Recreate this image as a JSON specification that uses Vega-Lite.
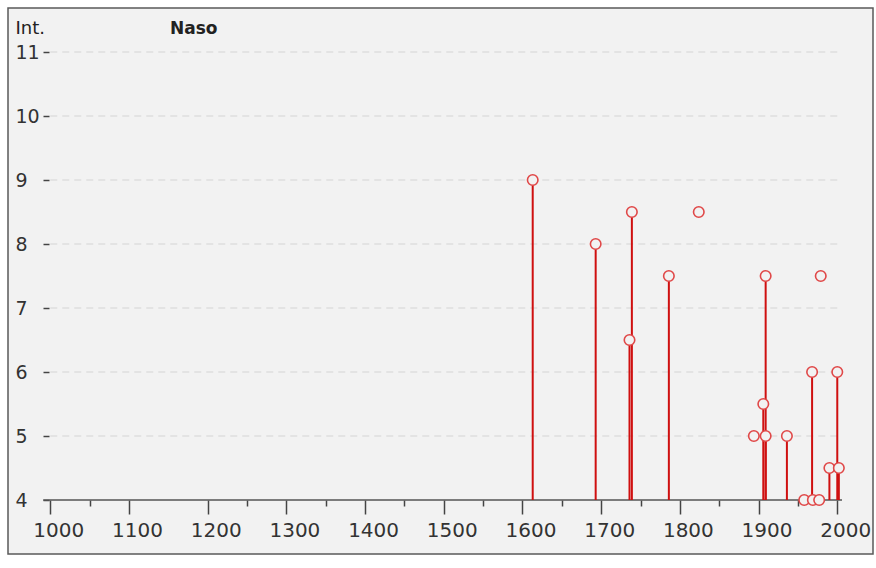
{
  "$schema": "https://vega.github.io/schema/vega-lite/v6.json",
  "width": 865,
  "height": 546,
  "autosize": {"type": "none"},
  "padding": {"left": 8, "top": 8, "right": 3, "bottom": 14},
  "background": "#ffffff",
  "config": {
    "view": {"fill": "#f2f2f2", "stroke": "#5a5a5a", "strokeWidth": 1.5},
    "font": "DejaVu Sans"
  },
  "title": {
    "text": "Naso",
    "anchor": "start",
    "frame": "group",
    "dx": 162,
    "dy": 34,
    "fontSize": 17,
    "fontWeight": "bold",
    "color": "#222222",
    "font": "DejaVu Sans"
  },
  "datasets": {
    "points": [
      {"year": 1613, "value": 9},
      {"year": 1693, "value": 8},
      {"year": 1736, "value": 6.5},
      {"year": 1739, "value": 8.5},
      {"year": 1786, "value": 7.5},
      {"year": 1824, "value": 8.5},
      {"year": 1894, "value": 5},
      {"year": 1906, "value": 5.5},
      {"year": 1909, "value": 5},
      {"year": 1909, "value": 7.5},
      {"year": 1936, "value": 5},
      {"year": 1958, "value": 4},
      {"year": 1968, "value": 6},
      {"year": 1969, "value": 4},
      {"year": 1977, "value": 4},
      {"year": 1979, "value": 7.5},
      {"year": 1990, "value": 4.5},
      {"year": 2000, "value": 6},
      {"year": 2002, "value": 4.5}
    ],
    "stems": [
      {"year": 1613, "value": 9},
      {"year": 1693, "value": 8},
      {"year": 1736, "value": 6.5},
      {"year": 1739, "value": 8.5},
      {"year": 1786, "value": 7.5},
      {"year": 1906, "value": 5.5},
      {"year": 1909, "value": 7.5},
      {"year": 1909, "value": 5},
      {"year": 1936, "value": 5},
      {"year": 1968, "value": 6},
      {"year": 1990, "value": 4.5},
      {"year": 2000, "value": 6},
      {"year": 2002, "value": 4.5}
    ],
    "grid": [
      {"level": 5}, {"level": 6}, {"level": 7}, {"level": 8}, {"level": 9}, {"level": 10}, {"level": 11}
    ]
  },
  "layer": [
    {
      "data": {"name": "grid"},
      "mark": {"type": "rule", "color": "#d4d4d4", "strokeWidth": 1, "strokeDash": [7, 5]},
      "encoding": {
        "y": {
          "field": "level",
          "type": "quantitative",
          "scale": {"domain": [3.15625, 11.6875], "zero": false, "nice": false},
          "axis": {
            "orient": "left",
            "offset": -41,
            "domain": false,
            "grid": false,
            "values": [4, 5, 6, 7, 8, 9, 10, 11],
            "format": "d",
            "tickSize": 6,
            "tickColor": "#444444",
            "tickWidth": 1.5,
            "labelAlign": "left",
            "labelPadding": 28,
            "labelFontSize": 19,
            "labelColor": "#333333",
            "labelFont": "DejaVu Sans",
            "title": "Int.",
            "titleAngle": 0,
            "titleAlign": "left",
            "titleBaseline": "alphabetic",
            "titleX": -34,
            "titleY": 25,
            "titleFontSize": 18,
            "titleFontWeight": "normal",
            "titleColor": "#222222",
            "titleFont": "DejaVu Sans"
          }
        },
        "x": {
          "datum": 1000,
          "type": "quantitative",
          "scale": {"domain": [946.25, 2045.4], "zero": false, "nice": false},
          "axis": {
            "orient": "bottom",
            "offset": -54,
            "domain": false,
            "grid": false,
            "title": null,
            "values": [1000, 1050, 1100, 1200, 1250, 1300, 1350, 1400, 1450, 1500, 1550, 1600, 1650, 1700, 1750, 1800, 1850, 1900, 1950, 2000],
            "tickSize": {"condition": {"test": "datum.value % 100 === 0", "value": 14}, "value": 6},
            "tickColor": "#444444",
            "tickWidth": 1.5,
            "labelExpr": "datum.value % 100 === 0 ? datum.label : ''",
            "format": "d",
            "labelOffset": 8,
            "labelPadding": 6,
            "labelFontSize": 20,
            "labelColor": "#333333",
            "labelFont": "DejaVu Sans",
            "labelFlush": false,
            "labelOverlap": false
          }
        },
        "x2": {"datum": 2006}
      }
    },
    {
      "data": {"values": [{"base": 4}]},
      "mark": {"type": "rule", "color": "#555555", "strokeWidth": 1.5},
      "encoding": {
        "y": {"field": "base", "type": "quantitative"},
        "x": {"datum": 991, "type": "quantitative"},
        "x2": {"datum": 2006}
      }
    },
    {
      "data": {"name": "stems"},
      "mark": {"type": "rule", "color": "#cf1010", "strokeWidth": 2},
      "encoding": {
        "x": {"field": "year", "type": "quantitative"},
        "y": {"field": "value", "type": "quantitative"},
        "y2": {"datum": 4}
      }
    },
    {
      "data": {"name": "points"},
      "mark": {"type": "point", "shape": "circle", "filled": true, "fill": "#f2f2f2", "fillOpacity": 1, "size": 110, "stroke": "#e04848", "strokeWidth": 1.6, "opacity": 1},
      "encoding": {
        "x": {"field": "year", "type": "quantitative"},
        "y": {"field": "value", "type": "quantitative"}
      }
    }
  ]
}
